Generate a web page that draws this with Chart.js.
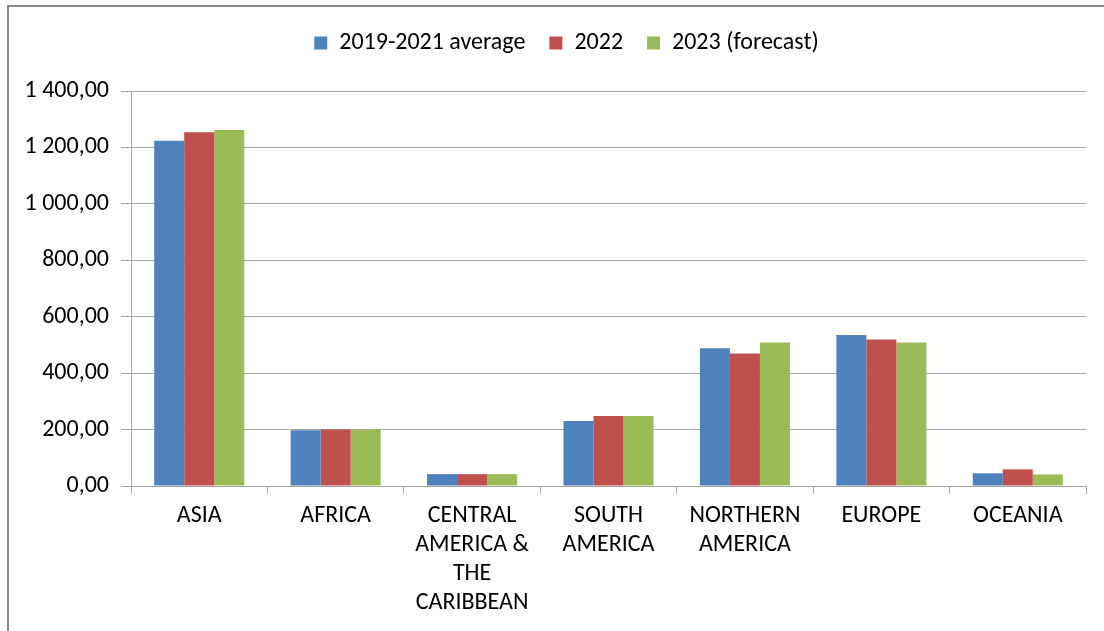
<!DOCTYPE html>
<html>
<head>
<meta charset="utf-8">
<script src="https://cdn.jsdelivr.net/npm/chart.js@4/dist/chart.umd.min.js"></script>
<style>
  html, body { margin: 0; padding: 0; background: #fff; }
  body { width: 1104px; height: 631px; overflow: hidden; position: relative; }
  #frame {
    position: absolute; left: 7px; top: 5px; right: 0; bottom: 0;
    border-left: 2px solid #8a8a8a; border-top: 2px solid #8a8a8a;
  }
  #wrap { position: absolute; left: 0; top: 0; width: 1095px; height: 624px; }
</style>
</head>
<body>
<div id="frame"><div id="wrap"><canvas id="chart"></canvas></div></div>
<script>
/* ---------- Data ---------- */
const categories = [
  ['ASIA'],
  ['AFRICA'],
  ['CENTRAL', 'AMERICA &', 'THE', 'CARIBBEAN'],
  ['SOUTH', 'AMERICA'],
  ['NORTHERN', 'AMERICA'],
  ['EUROPE'],
  ['OCEANIA'],
];
const seriesNames = ['2019-2021 average', '2022', '2023 (forecast)'];
const avg2019to2021 = [1224, 198, 42, 230, 488, 535, 45];
const values2022 = [1254, 200, 42, 248, 470, 519, 59];
const values2023 = [1262, 200, 42, 248, 509, 509, 41];
const yTicks = [0, 200, 400, 600, 800, 1000, 1200, 1400];

/* ---------- Helpers ---------- */
const FONT = "Carlito, Calibri, 'Liberation Sans Narrow', 'Open Sans', sans-serif";

function formatNum(v) {
  return v.toFixed(2).replace('.', ',').replace(/\B(?=(\d{3})+(?!\d))/g, ' ');
}

const colors = ['#4f81bd', '#c0504d', '#9bbb59'];
const seriesData = [avg2019to2021, values2022, values2023];

// extra room under the legend, and nudge it right like the original
const legendTweak = {
  id: 'legendTweak',
  beforeInit(chart) {
    const origFit = chart.legend.fit;
    chart.legend.fit = function () {
      origFit.call(this);
      this.height += 26;
    };
  },
  afterLayout(chart) {
    chart.legend.left += 19;
    chart.legend.right += 19;
  },
};

/* ---------- Chart ---------- */
new Chart(document.getElementById('chart'), {
  type: 'bar',
  data: {
    labels: categories,
    datasets: seriesNames.map((name, i) => ({
      label: name,
      data: seriesData[i],
      backgroundColor: colors[i],
      borderWidth: 0,
      categoryPercentage: 0.66,
      barPercentage: 1.0,
    })),
  },
  plugins: [legendTweak],
  options: {
    responsive: true,
    maintainAspectRatio: false,
    animation: false,
    layout: { padding: { top: 0, right: 18, bottom: 0, left: 0 } },
    plugins: {
      tooltip: { enabled: false },
      legend: {
        position: 'top',
        labels: {
          boxWidth: 13,
          boxHeight: 13,
          padding: 24,
          color: '#000',
          font: { size: 24, family: FONT },
        },
      },
    },
    scales: {
      x: {
        grid: {
          offset: true,
          drawOnChartArea: false,
          drawTicks: true,
          tickLength: 8,
          color: '#a6a6a6',
        },
        border: { display: true, color: '#a6a6a6', width: 1 },
        ticks: {
          maxRotation: 0,
          autoSkip: false,
          padding: 8,
          color: '#000',
          font: { size: 24, family: FONT, lineHeight: 1.2 },
        },
        afterFit(scale) { scale.height = 145; },
      },
      y: {
        min: 0,
        max: 1400,
        afterBuildTicks(scale) { scale.ticks = yTicks.map(v => ({ value: v })); },
        grid: { color: '#a6a6a6', drawTicks: true, tickLength: 10 },
        border: { display: true, color: '#a6a6a6', width: 1 },
        ticks: {
          padding: 12,
          color: '#000',
          font: { size: 24, family: FONT },
          callback(value) { return formatNum(value); },
        },
        afterFit(scale) { scale.width = 122; },
      },
    },
  },
});
</script>
</body>
</html>
